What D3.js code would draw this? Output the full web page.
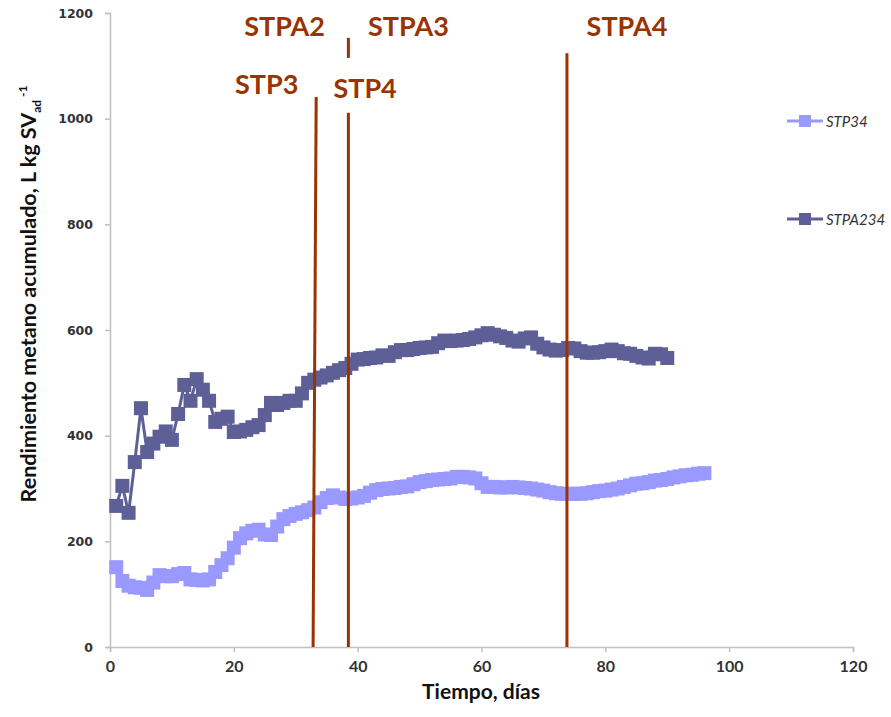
<!DOCTYPE html>
<html>
<head>
<meta charset="utf-8">
<script src="https://cdn.jsdelivr.net/npm/d3@7"></script>
<style>
  html, body { margin: 0; padding: 0; background: #fff; }
  svg { display: block; }
</style>
</head>
<body>
<div id="chart"></div>
<script>
// Cumulative methane yield per day (L kg SVad^-1)
const stp34 = [151,125,116,113,112,108,122,136,134,134,138,140,128,127,126,128,142,155,168,188,
  206,215,220,222,213,212,228,242,248,252,255,259,264,274,282,287,283,280,281,283,
  286,292,297,299,300,301,303,304,308,312,314,316,317,318,319,322,322,321,319,310,
  303,303,302,302,303,302,301,300,298,296,293,291,290,290,290,290,291,293,295,296,
  298,300,303,306,309,310,312,315,316,318,321,323,325,326,328,329];
const stpa234 = [267,305,254,350,452,369,385,398,408,392,441,496,466,507,487,466,426,432,436,407,
  408,411,416,420,439,462,458,462,466,466,480,500,506,510,514,519,524,528,536,544,
  545,547,548,552,551,558,562,562,564,566,567,568,575,580,579,580,581,583,586,590,
  594,591,588,585,580,578,584,586,574,567,563,561,562,566,565,560,557,557,558,560,
  563,560,556,555,551,548,546,555,554,547];

const seriesNames = ["STP34", "STPA234"];
const xTicks = [0, 20, 40, 60, 80, 100, 120];
const yTicks = [0, 200, 400, 600, 800, 1000, 1200];

// Phase-change markers: day at top/bottom of the line and vertical extent
const phaseLines = [
  { dayTop: 33.3, dayBottom: 32.8, from: 0, to: 1041 },
  { dayTop: 38.5, dayBottom: 38.5, from: 0, to: 1011 },
  { dayTop: 38.5, dayBottom: 38.5, from: 1115, to: 1153 },
  { dayTop: 73.8, dayBottom: 73.8, from: 0, to: 1124 }
];
const phaseLabels = ["STPA2", "STPA3", "STPA4", "STP3", "STP4"];
const phaseLabelPos = [ // [day, value] of label centre
  [28.2, 1176], [48.2, 1176], [83.5, 1176], [25.3, 1066], [41.2, 1059]
];

const W = 891, H = 717;
const M = { left: 110, right: 38, top: 13, bottom: 70 };
const colors = { STP34: "#9999ff", STPA234: "#5f5f98" };
const brown = "#993300";

const svg = d3.select("#chart").append("svg").attr("width", W).attr("height", H);

const x = d3.scaleLinear().domain([0, 120]).range([M.left, W - M.right]);
const y = d3.scaleLinear().domain([0, 1200]).range([H - M.bottom, M.top]);

// Axes
const axisColor = "#bfbfbf";
const xAxis = svg.append("g").attr("transform", `translate(0,${y(0)})`)
  .call(d3.axisBottom(x).tickValues(xTicks).tickSize(5).tickPadding(9));
const yAxis = svg.append("g").attr("transform", `translate(${x(0)},0)`)
  .call(d3.axisLeft(y).tickValues(yTicks).tickFormat(d3.format("d")).tickSize(5).tickPadding(12));
[xAxis, yAxis].forEach(g => {
  g.select(".domain").attr("stroke", axisColor).attr("stroke-width", 1.5);
  g.selectAll(".tick line").attr("stroke", axisColor).attr("stroke-width", 1.5);
});
xAxis.selectAll("text").attr("fill", "#333").style("font-family", "Lato, sans-serif")
  .style("font-weight", "bold").style("font-size", "16px");
yAxis.selectAll("text").attr("fill", "#333").style("font-family", "'DejaVu Sans', sans-serif")
  .style("font-weight", "bold").style("font-size", "12.5px");

// Axis titles
svg.append("text").attr("x", 481).attr("y", 699).attr("text-anchor", "middle")
  .style("font-family", "Lato, sans-serif").style("font-weight", "bold").style("font-size", "21px")
  .attr("fill", "#111").text("Tiempo, días");

const yt = svg.append("text")
  .attr("transform", "translate(36,294) rotate(-90)")
  .attr("text-anchor", "middle")
  .style("font-family", "Lato, sans-serif").style("font-weight", "bold").style("font-size", "21.5px")
  .attr("fill", "#111");
yt.append("tspan").text("Rendimiento metano acumulado, L kg SV");
yt.append("tspan").attr("dy", 5).style("font-size", "12px").text("ad");
yt.append("tspan").attr("dy", -14).style("font-size", "12px").text(" -1");

// Series
const lineGen = d3.line().x((d, i) => x(i + 1)).y(d => y(d));
const data = { STP34: stp34, STPA234: stpa234 };
seriesNames.forEach(name => {
  const g = svg.append("g");
  g.append("path").datum(data[name]).attr("d", lineGen)
    .attr("fill", "none").attr("stroke", colors[name]).attr("stroke-width", 3);
  g.selectAll("rect").data(data[name]).join("rect")
    .attr("x", (d, i) => x(i + 1) - 7).attr("y", d => y(d) - 7)
    .attr("width", 14).attr("height", 14).attr("fill", colors[name]);
});

// Phase lines
svg.selectAll("line.phase").data(phaseLines).join("line").attr("class", "phase")
  .attr("x1", d => x(d.dayBottom)).attr("y1", d => y(d.from))
  .attr("x2", d => x(d.dayTop)).attr("y2", d => y(d.to))
  .attr("stroke", brown).attr("stroke-width", 3);

svg.selectAll("text.phase").data(phaseLabels).join("text").attr("class", "phase")
  .attr("x", (d, i) => x(phaseLabelPos[i][0]))
  .attr("y", (d, i) => y(phaseLabelPos[i][1]))
  .attr("text-anchor", "middle").attr("dominant-baseline", "central")
  .style("font-family", "Lato, sans-serif").style("font-weight", "bold").style("font-size", "27px")
  .attr("fill", brown).text(d => d);

// Legend
const legendY = [121, 219];
seriesNames.forEach((name, i) => {
  const g = svg.append("g").attr("transform", `translate(787,${legendY[i]})`);
  g.append("line").attr("x1", 0).attr("x2", 36).attr("y1", 0).attr("y2", 0)
    .attr("stroke", colors[name]).attr("stroke-width", 3);
  g.append("rect").attr("x", 12).attr("y", -6).attr("width", 12).attr("height", 12)
    .attr("fill", colors[name]);
  g.append("text").attr("x", 39).attr("y", 0).attr("dominant-baseline", "central")
    .style("font-family", "Lato, sans-serif").style("font-style", "italic").style("font-size", "15px")
    .attr("fill", "#333").text(name);
});
</script>
</body>
</html>
